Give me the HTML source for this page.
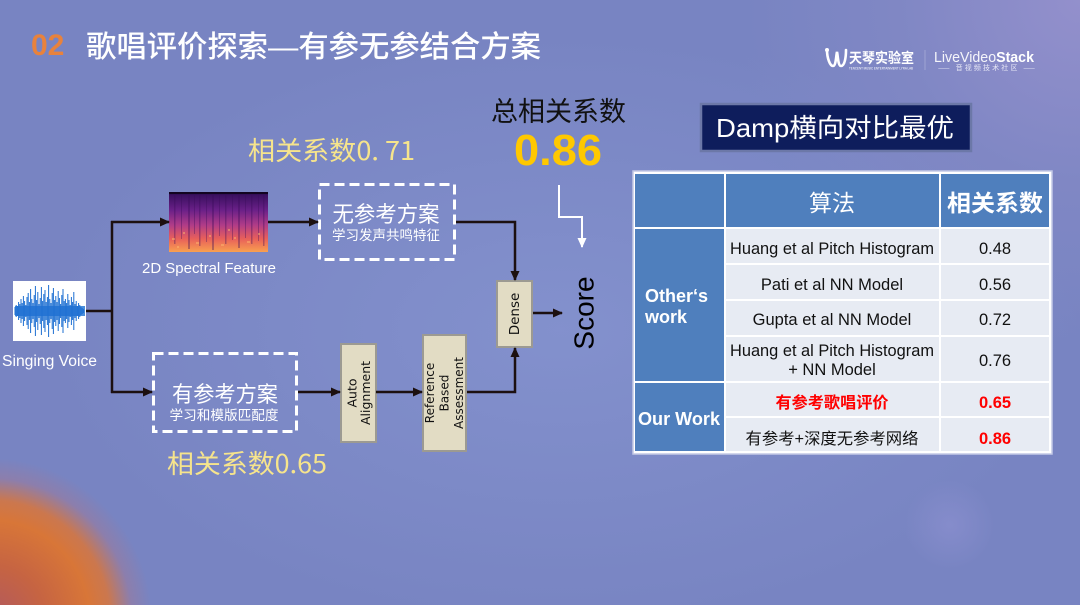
<!DOCTYPE html>
<html><head><meta charset="utf-8">
<style>
html,body{margin:0;padding:0;}
body{width:1080px;height:605px;overflow:hidden;position:relative;
background:
radial-gradient(circle at -10px 620px, rgba(176,88,96,1) 0px, rgba(198,100,66,1) 55px, rgba(216,118,56,1) 100px, rgba(212,118,66,0.9) 120px, rgba(170,118,140,0.4) 142px, rgba(120,134,196,0) 162px),
radial-gradient(circle at 950px 525px, rgba(150,150,215,0.45) 0px, rgba(140,145,210,0) 45px),
radial-gradient(circle at 1080px 0px, rgba(150,145,205,0.9) 0px, rgba(140,140,200,0.4) 180px, rgba(130,135,200,0) 340px),
radial-gradient(ellipse 520px 300px at 560px 330px, rgba(132,146,206,0.9), rgba(125,138,200,0) 100%),
#7884c2;
font-family:"Liberation Sans","Noto Sans CJK SC",sans-serif;}
svg{position:absolute;left:0;top:0;}
</style></head>
<body>
<svg width="1080" height="605" viewBox="0 0 1080 605" xmlns="http://www.w3.org/2000/svg">
<defs>
<marker id="ab" markerWidth="10" markerHeight="10" refX="9" refY="5" orient="auto" markerUnits="userSpaceOnUse"><path d="M0,0.5 L10,5 L0,9.5 z" fill="#1c1010"/></marker>
<marker id="aw" markerWidth="10" markerHeight="10" refX="9" refY="5" orient="auto" markerUnits="userSpaceOnUse"><path d="M0,0.5 L10,5 L0,9.5 z" fill="#ffffff"/></marker>
<linearGradient id="spec" x1="0" y1="0" x2="0" y2="1">
<stop offset="0" stop-color="#1a0630"/>
<stop offset="0.05" stop-color="#3a1060"/>
<stop offset="0.3" stop-color="#6a2088"/>
<stop offset="0.55" stop-color="#b03c88"/>
<stop offset="0.78" stop-color="#e8605a"/>
<stop offset="1" stop-color="#f8a050"/>
</linearGradient>
</defs>

<!-- Title -->
<text x="31" y="55" font-family="Liberation Sans,sans-serif" font-weight="bold" font-size="30" fill="#e8823c">02</text>
<text x="86" y="57" font-family="Liberation Sans,Noto Sans CJK SC,sans-serif" font-weight="500" font-size="30" fill="#ffffff" textLength="455" lengthAdjust="spacingAndGlyphs">歌唱评价探索—有参无参结合方案</text>

<!-- Logos -->
<path d="M827,50 C827,58 830,66 833,66 C836,66 836,56 837,52 C838,56 838,66 841,66 C845,66 846,56 846,50" fill="none" stroke="#fff" stroke-width="2.6" stroke-linecap="round"/>
<circle cx="827" cy="50" r="2" fill="#fff"/>
<text x="849" y="63" font-family="Noto Sans CJK SC,sans-serif" font-weight="bold" font-size="14" fill="#fff" textLength="65" lengthAdjust="spacingAndGlyphs">天琴实验室</text>
<text x="849" y="69.5" font-family="Liberation Sans,sans-serif" font-size="3.2" fill="#fff" textLength="64" lengthAdjust="spacingAndGlyphs">TENCENT MUSIC ENTERTAINMENT LYRA LAB</text>
<line x1="925" y1="50" x2="925" y2="70" stroke="#a8acd8" stroke-width="0.8"/>
<text x="934" y="62" font-family="Liberation Sans,sans-serif" font-size="14.5" fill="#fff" textLength="100" lengthAdjust="spacingAndGlyphs"><tspan font-weight="normal" opacity="0.92">LiveVideo</tspan><tspan font-weight="bold">Stack</tspan></text>
<text x="938" y="70" font-family="Noto Sans CJK SC,sans-serif" font-size="7" fill="#e8e8f6" textLength="97" lengthAdjust="spacing">—— 音视频技术社区 ——</text>

<!-- 总相关系数 -->
<text x="491" y="121" font-family="Noto Sans CJK SC,sans-serif" font-size="27" fill="#111" textLength="135" lengthAdjust="spacingAndGlyphs">总相关系数</text>
<text x="558" y="165" text-anchor="middle" font-family="Liberation Sans,sans-serif" font-weight="bold" font-size="44" fill="#ffc800" textLength="88" lengthAdjust="spacingAndGlyphs">0.86</text>

<text x="248" y="160" font-family="Noto Sans CJK SC,sans-serif" font-size="26" fill="#f6e48c" textLength="167" lengthAdjust="spacingAndGlyphs">相关系数0. 71</text>
<text x="167" y="473" font-family="Noto Sans CJK SC,sans-serif" font-size="26" fill="#f6e48c" textLength="160" lengthAdjust="spacingAndGlyphs">相关系数0.65</text>

<!-- Damp box -->
<rect x="701" y="104" width="270" height="47" fill="#0e1d5c" stroke="#6c78a8" stroke-width="2.5"/>
<text x="716" y="137" font-family="Liberation Sans,Noto Sans CJK SC,sans-serif" font-size="26" fill="#fff" textLength="238" lengthAdjust="spacingAndGlyphs">Damp横向对比最优</text>

<!-- Waveform -->
<rect x="13" y="281" width="73" height="60" fill="#ffffff"/>
<rect x="15" y="306" width="70" height="10" fill="#2a7ad6" opacity="0.85"/>
<g stroke="#1d6fd2" stroke-width="1">
<path d="M15,307V315M16.2,305V317M17.4,306V316M18.6,302V320M19.8,304V318M21,299V323M22.2,303V319M23.4,296V326M24.6,301V321M25.8,305V317M27,297V325M28.2,293V329M29.4,302V320M30.6,289V333M31.8,299V323M33,303V319M34.2,295V327M35.4,286V336M36.6,300V322M37.8,292V330M39,304V318M40.2,298V324M41.4,287V335M42.6,301V321M43.8,294V328M45,290V332M46.2,302V320M47.4,297V325M48.6,285V337M49.8,299V323M51,303V319M52.2,293V329M53.4,288V334M54.6,300V322M55.8,296V326M57,302V320M58.2,291V331M59.4,298V324M60.6,304V318M61.8,295V327M63,289V333M64.2,301V321M65.4,299V323M66.6,303V319M67.8,294V328M69,300V322M70.2,305V317M71.4,297V325M72.6,302V320M73.8,292V330M75,304V318M76.2,301V321M77.4,306V316M78.6,303V319M79.8,305V317M81,307V315M82.2,308V314M83.4,309V313"/>
</g>
<text x="2" y="366" font-family="Liberation Sans,sans-serif" font-size="15.5" fill="#fff" textLength="95" lengthAdjust="spacingAndGlyphs">Singing Voice</text>

<!-- Spectrogram -->
<rect x="169" y="192" width="99" height="60" fill="url(#spec)"/>
<rect x="169" y="192" width="99" height="2" fill="#120420"/>
<g fill="#3a0c5a" opacity="0.35">
<rect x="174" y="194" width="1.5" height="50"/><rect x="181" y="194" width="1" height="45"/><rect x="188" y="194" width="2" height="55"/><rect x="194" y="194" width="1" height="40"/><rect x="199" y="194" width="1.5" height="52"/><rect x="206" y="194" width="1" height="48"/><rect x="212" y="194" width="2" height="56"/><rect x="219" y="194" width="1" height="42"/><rect x="225" y="194" width="1.5" height="50"/><rect x="232" y="194" width="1" height="46"/><rect x="238" y="194" width="2" height="54"/><rect x="245" y="194" width="1" height="44"/><rect x="251" y="194" width="1.5" height="50"/><rect x="258" y="194" width="1" height="47"/><rect x="263" y="194" width="1.5" height="52"/>
</g>
<g fill="#ffc070" opacity="0.45">
<rect x="172" y="238" width="3" height="2"/><rect x="183" y="232" width="2" height="2"/><rect x="196" y="242" width="3" height="2"/><rect x="209" y="235" width="2" height="2"/><rect x="221" y="244" width="3" height="2"/><rect x="234" y="237" width="2" height="2"/><rect x="247" y="241" width="3" height="2"/><rect x="258" y="233" width="2" height="2"/><rect x="177" y="246" width="2" height="2"/><rect x="228" y="229" width="2" height="2"/>
</g>
<text x="142" y="273" font-family="Liberation Sans,sans-serif" font-size="15" fill="#fff" textLength="134" lengthAdjust="spacingAndGlyphs">2D Spectral Feature</text>

<!-- Dashed boxes -->
<rect x="319.5" y="184.5" width="135" height="75" fill="none" stroke="#fff" stroke-width="3" stroke-dasharray="10 5"/>
<text x="386" y="222" text-anchor="middle" font-family="Noto Sans CJK SC,sans-serif" font-size="22" fill="#fff" textLength="107" lengthAdjust="spacingAndGlyphs">无参考方案</text>
<text x="386" y="240" text-anchor="middle" font-family="Noto Sans CJK SC,sans-serif" font-size="13.5" fill="#fff" textLength="108" lengthAdjust="spacingAndGlyphs">学习发声共鸣特征</text>

<rect x="153.5" y="353.5" width="143" height="78" fill="none" stroke="#fff" stroke-width="3" stroke-dasharray="10 5"/>
<text x="225" y="402" text-anchor="middle" font-family="Noto Sans CJK SC,sans-serif" font-size="22" fill="#fff" textLength="106" lengthAdjust="spacingAndGlyphs">有参考方案</text>
<text x="224" y="420" text-anchor="middle" font-family="Noto Sans CJK SC,sans-serif" font-size="13.5" fill="#fff" textLength="109" lengthAdjust="spacingAndGlyphs">学习和模版匹配度</text>

<!-- Beige boxes -->
<rect x="497" y="281" width="35" height="66" fill="#e2dcc4" stroke="#9c9a92" stroke-width="2"/>
<text transform="translate(515,314) rotate(-90)" text-anchor="middle" dominant-baseline="central" font-family="DejaVu Sans,Liberation Sans,sans-serif" font-size="13.5" fill="#111">Dense</text>

<rect x="341" y="344" width="35" height="98" fill="#e2dcc4" stroke="#9c9a92" stroke-width="2"/>
<text transform="translate(352,393) rotate(-90)" text-anchor="middle" dominant-baseline="central" font-family="DejaVu Sans,Liberation Sans,sans-serif" font-size="12.5" fill="#111">Auto</text>
<text transform="translate(365.5,393) rotate(-90)" text-anchor="middle" dominant-baseline="central" font-family="DejaVu Sans,Liberation Sans,sans-serif" font-size="12.5" fill="#111">Alignment</text>

<rect x="423" y="335" width="43" height="116" fill="#e2dcc4" stroke="#9c9a92" stroke-width="2"/>
<text transform="translate(430,393) rotate(-90)" text-anchor="middle" dominant-baseline="central" font-family="DejaVu Sans,Liberation Sans,sans-serif" font-size="12" fill="#111">Reference</text>
<text transform="translate(444.5,393) rotate(-90)" text-anchor="middle" dominant-baseline="central" font-family="DejaVu Sans,Liberation Sans,sans-serif" font-size="12" fill="#111">Based</text>
<text transform="translate(459,393) rotate(-90)" text-anchor="middle" dominant-baseline="central" font-family="DejaVu Sans,Liberation Sans,sans-serif" font-size="12" fill="#111">Assessment</text>

<text transform="translate(584,313) rotate(-90)" text-anchor="middle" dominant-baseline="central" font-family="Liberation Sans,sans-serif" font-size="28" fill="#000">Score</text>

<!-- Connectors -->
<g fill="none" stroke="#1c1010" stroke-width="2.5">
<path d="M86,311 H112"/>
<path d="M112,221 V393"/>
<path d="M111,222 H169" marker-end="url(#ab)"/>
<path d="M111,392 H152" marker-end="url(#ab)"/>
<path d="M268,222 H318" marker-end="url(#ab)"/>
<path d="M456,222 H515 V280" marker-end="url(#ab)"/>
<path d="M533,313 H562" marker-end="url(#ab)"/>
<path d="M298,392 H340" marker-end="url(#ab)"/>
<path d="M376,392 H422" marker-end="url(#ab)"/>
<path d="M467,392 H515 V348" marker-end="url(#ab)"/>
</g>
<path d="M559,185 V217 H582 V247" fill="none" stroke="#fff" stroke-width="2" marker-end="url(#aw)"/>

<!-- Table -->
<rect x="633" y="171" width="419" height="283" fill="#ffffff" stroke="#c3c9e6" stroke-width="1.5"/>
<g fill="#4f7fbd">
<rect x="635" y="174" width="89" height="53"/>
<rect x="726" y="174" width="213" height="53"/>
<rect x="941" y="174" width="108" height="53"/>
<rect x="635" y="229" width="89" height="152"/>
<rect x="635" y="383" width="89" height="68"/>
</g>
<g fill="#e7ebf3">
<rect x="726" y="229" width="213" height="34"/><rect x="941" y="229" width="108" height="34"/>
<rect x="726" y="265" width="213" height="34"/><rect x="941" y="265" width="108" height="34"/>
<rect x="726" y="301" width="213" height="34"/><rect x="941" y="301" width="108" height="34"/>
<rect x="726" y="337" width="213" height="44"/><rect x="941" y="337" width="108" height="44"/>
<rect x="726" y="383" width="213" height="33"/><rect x="941" y="383" width="108" height="33"/>
<rect x="726" y="418" width="213" height="33"/><rect x="941" y="418" width="108" height="33"/>
</g>
<text x="832" y="211" text-anchor="middle" font-family="Noto Sans CJK SC,sans-serif" font-size="23" fill="#fff">算法</text>
<text x="995" y="211" text-anchor="middle" font-family="Noto Sans CJK SC,sans-serif" font-weight="bold" font-size="23" fill="#fff" textLength="96" lengthAdjust="spacingAndGlyphs">相关系数</text>

<g font-family="Liberation Sans,Noto Sans CJK SC,sans-serif" font-size="16.5" fill="#111" text-anchor="middle">
<text x="832" y="254" textLength="204" lengthAdjust="spacingAndGlyphs">Huang et al Pitch Histogram</text>
<text x="832" y="290">Pati et al NN Model</text>
<text x="832" y="325">Gupta et al NN Model</text>
<text x="832" y="356" textLength="204" lengthAdjust="spacingAndGlyphs">Huang et al Pitch Histogram</text>
<text x="832" y="375">+ NN Model</text>
<text x="832" y="444" font-size="16" textLength="173" lengthAdjust="spacingAndGlyphs">有参考+深度无参考网络</text>
<text x="995" y="254">0.48</text>
<text x="995" y="290">0.56</text>
<text x="995" y="325">0.72</text>
<text x="995" y="366">0.76</text>
</g>
<text x="832" y="408" text-anchor="middle" font-family="Noto Sans CJK SC,sans-serif" font-weight="bold" font-size="16" fill="#ff0000" textLength="113" lengthAdjust="spacingAndGlyphs">有参考歌唱评价</text>
<text x="995" y="408" text-anchor="middle" font-family="Liberation Sans,sans-serif" font-weight="bold" font-size="16.5" fill="#ff0000">0.65</text>
<text x="995" y="444" text-anchor="middle" font-family="Liberation Sans,sans-serif" font-weight="bold" font-size="16.5" fill="#ff0000">0.86</text>

<g font-family="Liberation Sans,sans-serif" font-weight="bold" font-size="18" fill="#fff">
<text x="645" y="302">Other‘s</text>
<text x="645" y="323">work</text>
<text x="638" y="425" textLength="82" lengthAdjust="spacingAndGlyphs">Our Work</text>
</g>
</svg>
</body></html>
